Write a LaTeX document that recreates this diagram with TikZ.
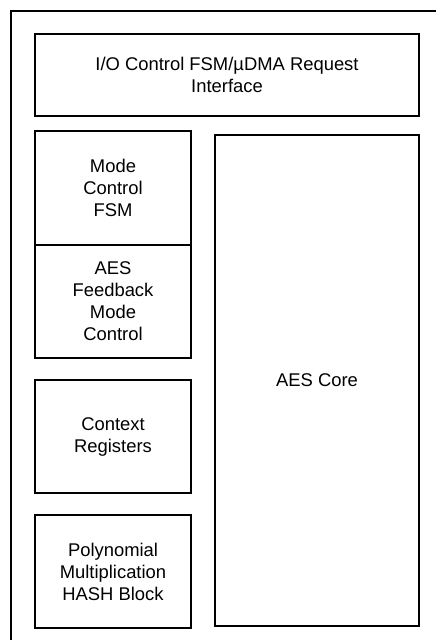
\documentclass[tikz,border=0pt]{standalone}
\usepackage{fontspec}
\setmainfont{Liberation Sans}
\begin{document}
\begin{tikzpicture}[x=1pt,y=-1pt,
  blk/.style={draw=black, line width=2pt, fill=white, rectangle, inner sep=0pt,
    align=center, font=\fontsize{18.4}{22}\selectfont},
  frame/.style={draw=black, line width=2pt}]
\useasboundingbox (0,0) rectangle (436,640);
\clip (0,0) rectangle (436,640);
\fill[white] (0,0) rectangle (436,640);
\draw[frame] (11,11) rectangle (460,670);
\node[blk, minimum width=384pt, minimum height=82pt] (io) at (227,75)
  {I/O Control FSM/µDMA Request\\Interface};
\node[blk, minimum width=156pt, minimum height=114pt] (mode) at (113,188)
  {Mode\\Control\\FSM};
\node[blk, minimum width=156pt, minimum height=113pt] (fb) at (113,301.5)
  {AES\\Feedback\\Mode\\Control};
\node[blk, minimum width=156pt, minimum height=113pt] (ctx) at (113,436.5)
  {Context\\Registers};
\node[blk, minimum width=156pt, minimum height=113pt] (poly) at (113,571.5)
  {Polynomial\\Multiplication\\HASH Block};
\node[blk, minimum width=204pt, minimum height=491pt] (core) at (317,380.5)
  {AES Core};
\end{tikzpicture}
\end{document}
